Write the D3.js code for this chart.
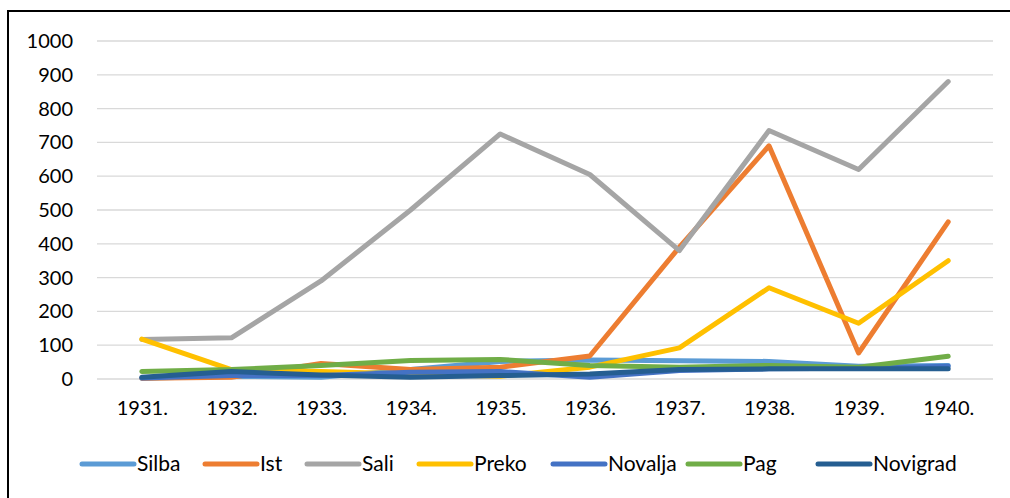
<!DOCTYPE html>
<html>
<head>
<meta charset="utf-8">
<script src="https://cdn.jsdelivr.net/npm/d3@7"></script>
<style>
  body { margin: 0; background: #fff; }
  svg { display: block; font-family: Lato, "Open Sans", sans-serif; }
</style>
</head>
<body>
<div id="chart"></div>
<script>
const years = ['1931.', '1932.', '1933.', '1934.', '1935.', '1936.', '1937.', '1938.', '1939.', '1940.'];
const yTicks = [0, 100, 200, 300, 400, 500, 600, 700, 800, 900, 1000];

const silba = [2, 8, 5, 28, 52, 56, 54, 52, 38, 40];
const ist = [2, 5, 46, 28, 35, 68, 390, 690, 77, 465];
const sali = [117, 122, 290, 500, 725, 605, 380, 735, 620, 880];
const preko = [118, 28, 22, 15, 8, 35, 92, 270, 165, 350];
const novalja = [3, 10, 10, 20, 22, 5, 25, 30, 32, 38];
const pag = [22, 28, 40, 55, 58, 40, 35, 40, 35, 67];
const novigrad = [5, 22, 12, 5, 10, 15, 28, 30, 30, 30];

const seriesNames = ['Silba', 'Ist', 'Sali', 'Preko', 'Novalja', 'Pag', 'Novigrad'];
const seriesValues = [silba, ist, sali, preko, novalja, pag, novigrad];
const colors = ['#5B9BD5', '#ED7D31', '#A5A5A5', '#FFC000', '#4472C4', '#70AD47', '#255E91'];

const width = 1010, height = 498;
const margin = { top: 41, right: 17, bottom: 119, left: 97 };
const innerW = width - margin.left - margin.right;
const innerH = height - margin.top - margin.bottom;

const svg = d3.select('#chart').append('svg')
    .attr('width', width)
    .attr('height', height);

// outer frame
svg.append('rect')
    .attr('x', 8).attr('y', 11)
    .attr('width', 1020).attr('height', 520)
    .attr('fill', 'none')
    .attr('stroke', '#000')
    .attr('stroke-width', 2);

const g = svg.append('g').attr('transform', `translate(${margin.left},${margin.top})`);

const x = d3.scalePoint().domain(years).range([0, innerW]).padding(0.5);
const y = d3.scaleLinear().domain([0, 1000]).range([innerH, 0]);

// gridlines
g.selectAll('.grid')
    .data(yTicks)
    .enter()
    .append('line')
    .attr('x1', 0).attr('x2', innerW)
    .attr('y1', (d) => y(d)).attr('y2', (d) => y(d))
    .attr('stroke', '#d9d9d9')
    .attr('stroke-width', 1.3);

// y axis labels
const yAxis = g.append('g')
    .attr('transform', 'translate(-24,0)')
    .call(d3.axisLeft(y).tickValues(yTicks).tickFormat(d3.format('d')).tickSize(0).tickPadding(0));
yAxis.select('.domain').remove();
yAxis.selectAll('text')
    .attr('font-family', 'Lato, sans-serif')
    .attr('font-size', 20)
    .attr('fill', '#000');

// x axis labels
const xAxis = g.append('g')
    .attr('transform', `translate(0,${innerH})`)
    .call(d3.axisBottom(x).tickSize(0).tickPadding(22));
xAxis.select('.domain').remove();
xAxis.selectAll('text')
    .attr('font-family', 'Lato, sans-serif')
    .attr('font-size', 20)
    .attr('fill', '#000');

const line = d3.line()
    .x((d, i) => x(years[i]))
    .y((d) => y(d));

seriesValues.forEach((vals, i) => {
    g.append('path')
        .datum(vals)
        .attr('fill', 'none')
        .attr('stroke', colors[i])
        .attr('stroke-width', 5)
        .attr('stroke-linecap', 'round')
        .attr('stroke-linejoin', 'round')
        .attr('d', line);
});

// legend
const legendX = [80, 203, 305, 417, 551, 686, 816];
const legend = svg.append('g').attr('transform', 'translate(0,464)');
seriesNames.forEach((name, i) => {
    legend.append('line')
        .attr('x1', legendX[i] + 2).attr('x2', legendX[i] + 54)
        .attr('y1', 0).attr('y2', 0)
        .attr('stroke', colors[i])
        .attr('stroke-width', 5)
        .attr('stroke-linecap', 'round');
    legend.append('text')
        .attr('x', legendX[i] + 57)
        .attr('y', 7)
        .attr('font-size', 21)
        .attr('fill', '#000')
        .text(name);
});
</script>
</body>
</html>
